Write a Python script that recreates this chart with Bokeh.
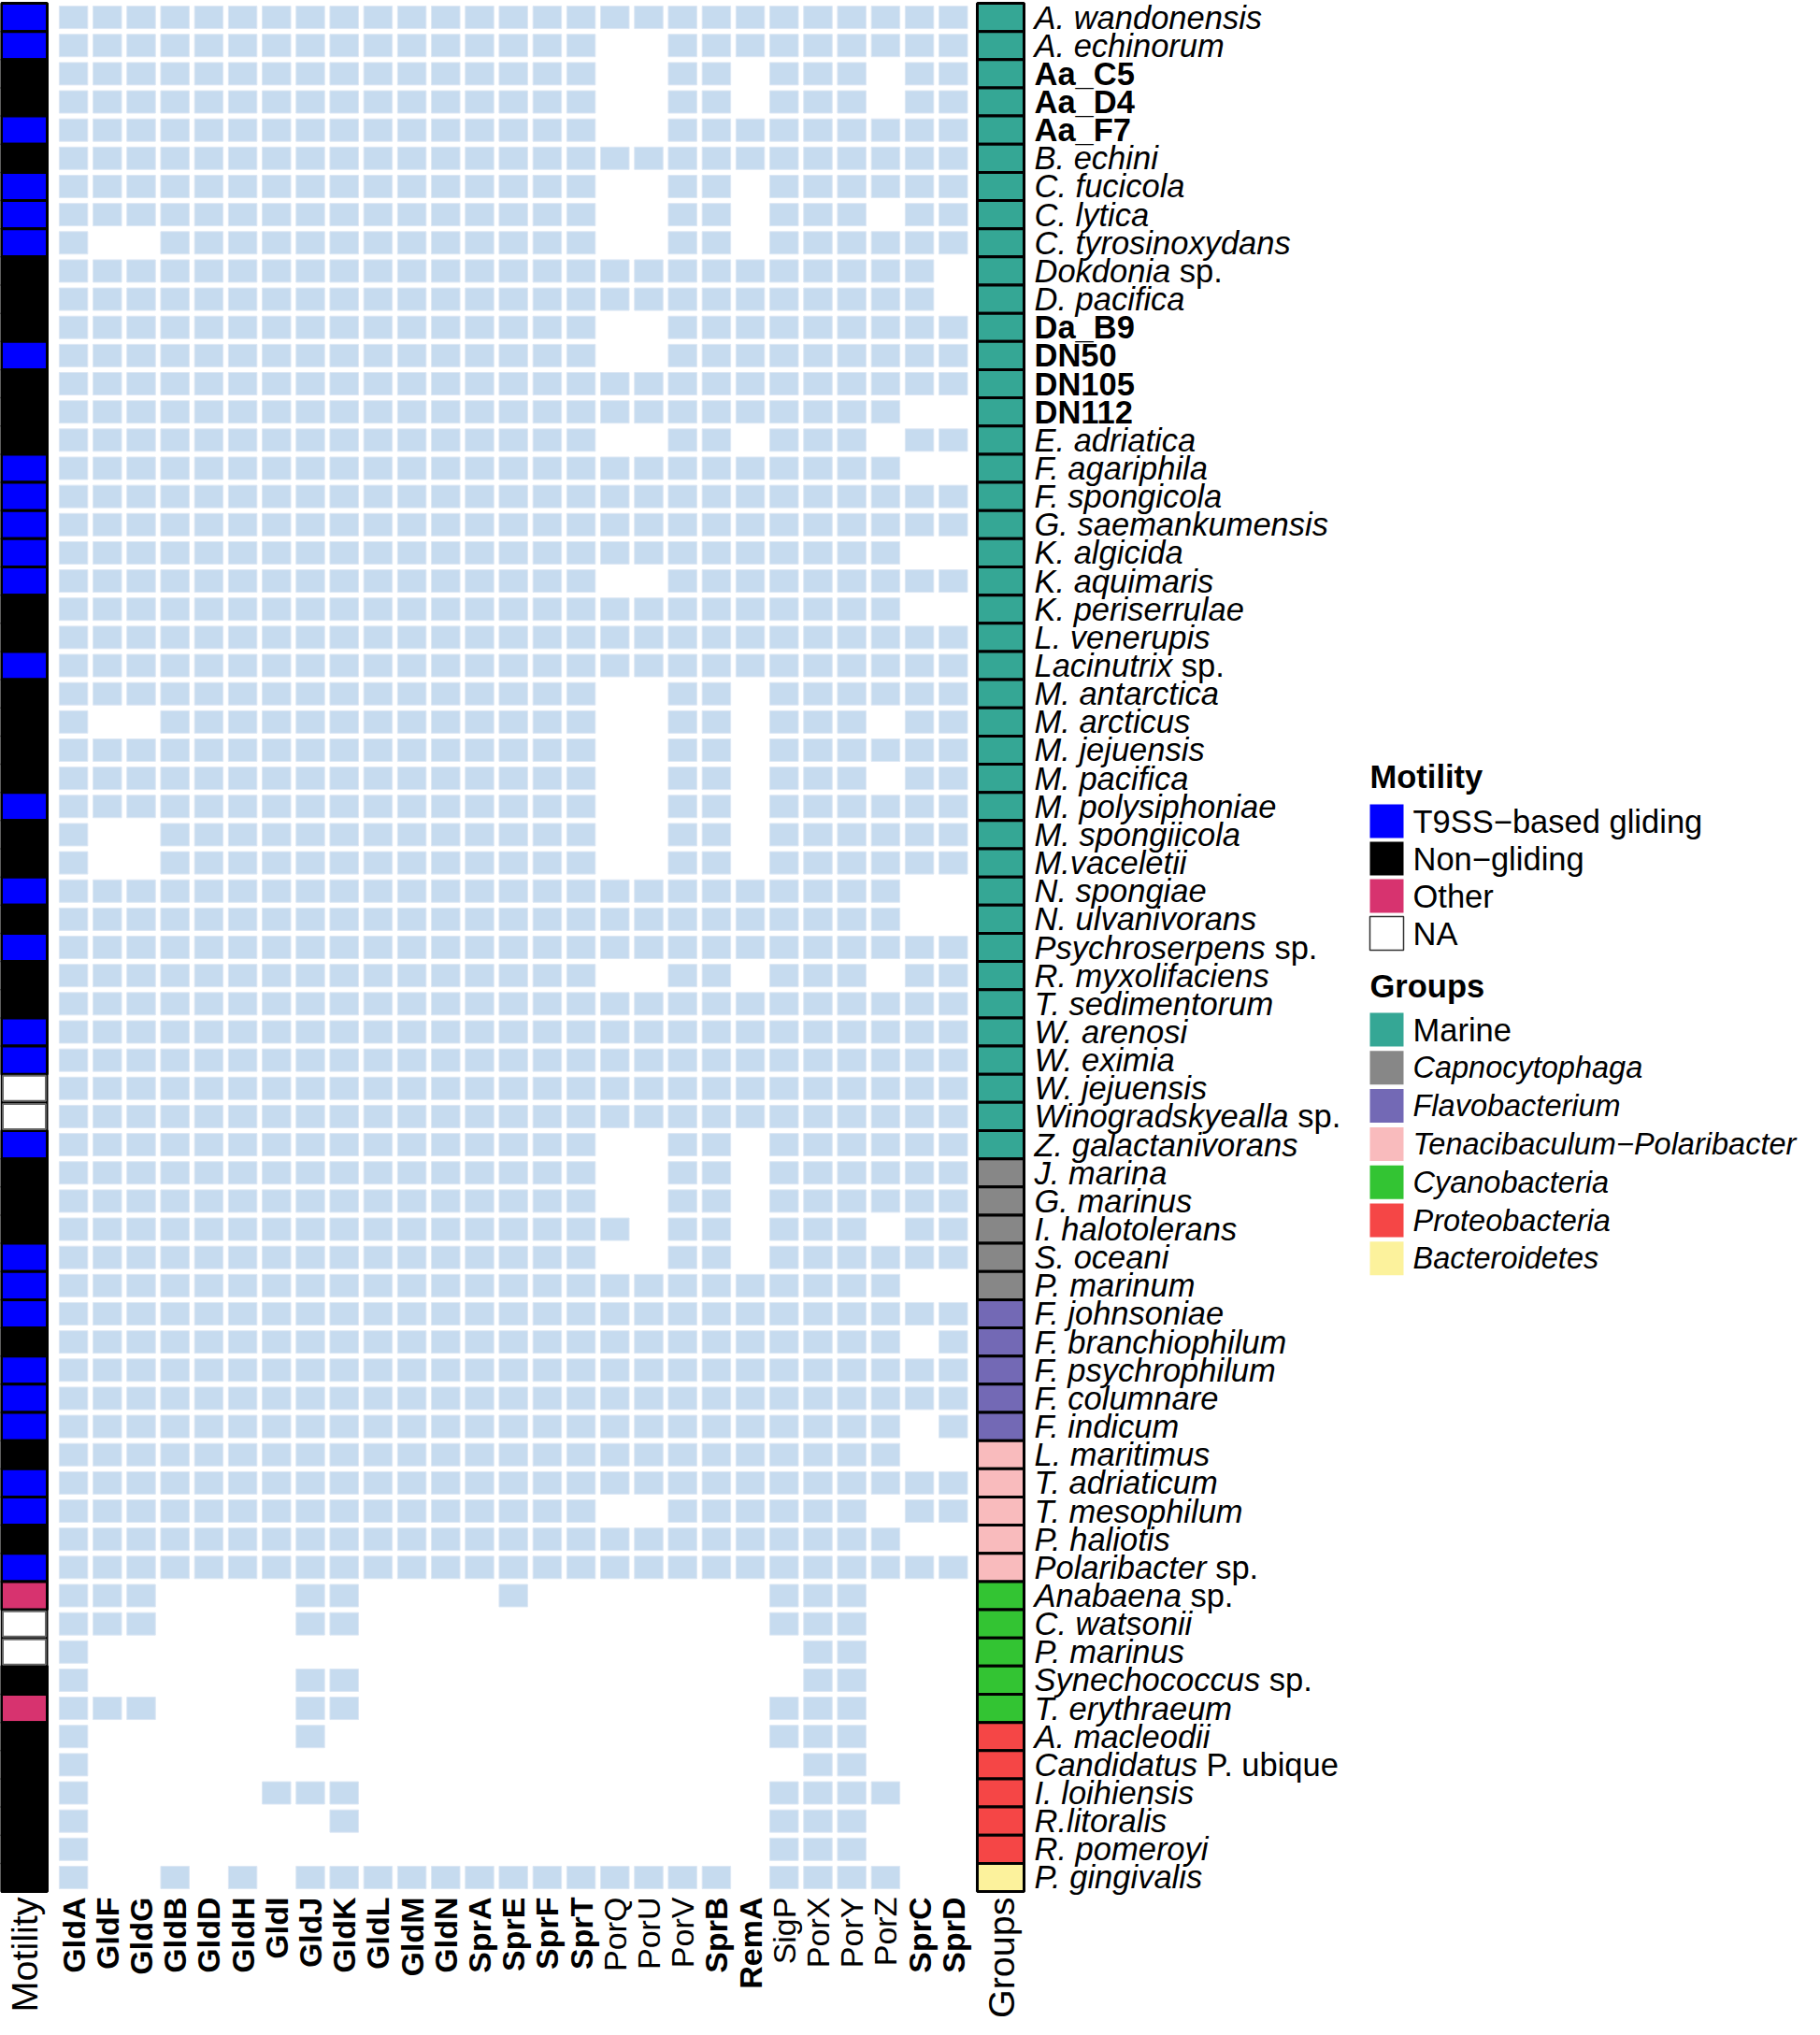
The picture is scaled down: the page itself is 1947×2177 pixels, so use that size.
import math
from bokeh.plotting import figure
from bokeh.models import Range1d
from bokeh.core.properties import value
from bokeh.embed import file_html
from bokeh.resources import INLINE

# ---------------- data ----------------
species = [
    "A. wandonensis", "A. echinorum", "Aa_C5", "Aa_D4", "Aa_F7", "B. echini",
    "C. fucicola", "C. lytica", "C. tyrosinoxydans", "Dokdonia sp.", "D. pacifica",
    "Da_B9", "DN50", "DN105", "DN112", "E. adriatica", "F. agariphila",
    "F. spongicola", "G. saemankumensis", "K. algicida", "K. aquimaris",
    "K. periserrulae", "L. venerupis", "Lacinutrix sp.", "M. antarctica",
    "M. arcticus", "M. jejuensis", "M. pacifica", "M. polysiphoniae",
    "M. spongiicola", "M.vaceletii", "N. spongiae", "N. ulvanivorans",
    "Psychroserpens sp.", "R. myxolifaciens", "T. sedimentorum", "W. arenosi",
    "W. eximia", "W. jejuensis", "Winogradskyealla sp.", "Z. galactanivorans",
    "J. marina", "G. marinus", "I. halotolerans", "S. oceani", "P. marinum",
    "F. johnsoniae", "F. branchiophilum", "F. psychrophilum", "F. columnare",
    "F. indicum", "L. maritimus", "T. adriaticum", "T. mesophilum", "P. haliotis",
    "Polaribacter sp.", "Anabaena sp.", "C. watsonii", "P. marinus",
    "Synechococcus sp.", "T. erythraeum", "A. macleodii", "Candidatus P. ubique",
    "I. loihiensis", "R.litoralis", "R. pomeroyi", "P. gingivalis",
]
bold_species = ["Aa_C5", "Aa_D4", "Aa_F7", "Da_B9", "DN50", "DN105", "DN112"]

genes = ["GldA", "GldF", "GldG", "GldB", "GldD", "GldH", "GldI", "GldJ", "GldK",
         "GldL", "GldM", "GldN", "SprA", "SprE", "SprF", "SprT", "PorQ", "PorU",
         "PorV", "SprB", "RemA", "SigP", "PorX", "PorY", "PorZ", "SprC", "SprD"]
regular_genes = ["PorQ", "PorU", "PorV", "SigP", "PorX", "PorY", "PorZ"]

# B = T9SS-based gliding, N = Non-gliding, O = Other, X = NA
motility = list("BBNNBNBBBNNNBNNNBBBBBNNBNNNNBNNBNBNNBBXXBNNNBBBNBBBNBBNBOXXNONNNNNN")

groups = (["Marine"] * 41 + ["Capnocytophaga"] * 5 + ["Flavobacterium"] * 5 +
          ["Tenacibaculum−Polaribacter"] * 5 + ["Cyanobacteria"] * 5 +
          ["Proteobacteria"] * 5 + ["Bacteroidetes"] * 1)

# presence (1) / absence (0) of each gene, columns in the order of `genes`
presence = [
    "1111111111111111 11111 111111",  # A. wandonensis
    "1111111111111111 00111 111111",  # A. echinorum
    "1111111111111111 00110 111011",  # Aa_C5
    "1111111111111111 00110 111011",  # Aa_D4
    "1111111111111111 00111 111111",  # Aa_F7
    "1111111111111111 11111 111111",  # B. echini
    "1111111111111111 00110 111111",  # C. fucicola
    "1111111111111111 00110 111011",  # C. lytica
    "1001111111111111 00110 111111",  # C. tyrosinoxydans
    "1111111111111111 11111 111110",  # Dokdonia sp.
    "1111111111111111 11111 111110",  # D. pacifica
    "1111111111111111 00111 111111",  # Da_B9
    "1111111111111111 00111 111111",  # DN50
    "1111111111111111 11111 111111",  # DN105
    "1111111111111111 11111 111100",  # DN112
    "1111111111111111 00110 111011",  # E. adriatica
    "1111111111111111 11111 111100",  # F. agariphila
    "1111111111111111 11111 111111",  # F. spongicola
    "1111111111111111 11111 111111",  # G. saemankumensis
    "1111111111111111 11111 111100",  # K. algicida
    "1111111111111111 00111 111111",  # K. aquimaris
    "1111111111111111 11111 111100",  # K. periserrulae
    "1111111111111111 11111 111111",  # L. venerupis
    "1111111111111111 11111 111111",  # Lacinutrix sp.
    "1111111111111111 00110 111111",  # M. antarctica
    "1001111111111111 00110 111011",  # M. arcticus
    "1111111111111111 00110 111111",  # M. jejuensis
    "1111111111111111 00110 111011",  # M. pacifica
    "1111111111111111 00110 111111",  # M. polysiphoniae
    "1001111111111111 00110 111111",  # M. spongiicola
    "1001111111111111 00110 111111",  # M.vaceletii
    "1111111111111111 11111 111100",  # N. spongiae
    "1111111111111111 11111 111100",  # N. ulvanivorans
    "1111111111111111 11111 111111",  # Psychroserpens sp.
    "1111111111111111 00110 111011",  # R. myxolifaciens
    "1111111111111111 11111 111111",  # T. sedimentorum
    "1111111111111111 11111 111111",  # W. arenosi
    "1111111111111111 11111 111111",  # W. eximia
    "1111111111111111 11111 111111",  # W. jejuensis
    "1111111111111111 11111 111111",  # Winogradskyealla sp.
    "1111111111111111 00110 111111",  # Z. galactanivorans
    "1111111111111111 00110 111111",  # J. marina
    "1111111111111111 00110 111111",  # G. marinus
    "1111111111111111 10110 111011",  # I. halotolerans
    "1111111111111111 00110 111111",  # S. oceani
    "1111111111111111 11111 111100",  # P. marinum
    "1111111111111111 11111 111111",  # F. johnsoniae
    "1111111111111111 11111 111101",  # F. branchiophilum
    "1111111111111111 11111 111111",  # F. psychrophilum
    "1111111111111111 11111 111111",  # F. columnare
    "1111111111111111 11111 111101",  # F. indicum
    "1111111111111111 11111 111100",  # L. maritimus
    "1111111111111111 11111 111111",  # T. adriaticum
    "1111111111111111 00111 111011",  # T. mesophilum
    "1111111111111111 11111 111100",  # P. haliotis
    "1111111111111111 11111 111111",  # Polaribacter sp.
    "1110000110000100 00000 111000",  # Anabaena sp.
    "1110000110000000 00000 111000",  # C. watsonii
    "1000000000000000 00000 011000",  # P. marinus
    "1000000110000000 00000 011000",  # Synechococcus sp.
    "1110000110000000 00000 111000",  # T. erythraeum
    "1000000100000000 00000 111000",  # A. macleodii
    "1000000000000000 00000 011000",  # Candidatus P. ubique
    "1000001110000000 00000 111100",  # I. loihiensis
    "1000000010000000 00000 111000",  # R.litoralis
    "1000000000000000 00000 111000",  # R. pomeroyi
    "1001010111111111 11110 111100",  # P. gingivalis
]

motility_names = {"B": "T9SS−based gliding", "N": "Non−gliding", "O": "Other", "X": "NA"}
motility_order = ["B", "N", "O", "X"]
motility_colors = {"B": "#0000FF", "N": "#000000", "O": "#D7336F", "X": "#FFFFFF"}

group_order = ["Marine", "Capnocytophaga", "Flavobacterium", "Tenacibaculum−Polaribacter",
               "Cyanobacteria", "Proteobacteria", "Bacteroidetes"]
group_colors = {"Marine": "#35A795", "Capnocytophaga": "#878787",
                "Flavobacterium": "#7369B5", "Tenacibaculum−Polaribacter": "#F9BBBD",
                "Cyanobacteria": "#33C433", "Proteobacteria": "#F54646",
                "Bacteroidetes": "#FCF29C"}
CELL_COLOR = "#C6DBEF"

# ---------------- layout ----------------
W, H = 1931, 2161
FONT = value("Liberation Sans")
FSN = 34.5
FS = "34.5px"
ROW0, ROWH = 3, 30.15
GENE_X0, GENE_P = 60, 36.2
MOT_X, GRP_X = 25.5, 1070
LABEL_X = 1106
n = len(species)

def row_y(i):
    return ROW0 + ROWH * (i + 0.5)

def col_x(j):
    return GENE_X0 + GENE_P * (j + 0.5)

# Arial / Liberation Sans advance widths (per 1000 em)
AW = {' ': 278, '.': 278, 'a': 556, 'b': 556, 'c': 500, 'd': 556, 'e': 556, 'f': 278,
      'g': 556, 'h': 556, 'i': 222, 'j': 222, 'k': 500, 'l': 222, 'm': 833, 'n': 556,
      'o': 556, 'p': 556, 'q': 556, 'r': 333, 's': 500, 't': 278, 'u': 556, 'v': 500,
      'w': 722, 'x': 500, 'y': 500, 'z': 500, 'A': 667, 'B': 667, 'C': 722, 'D': 722,
      'E': 667, 'F': 611, 'G': 778, 'H': 722, 'I': 278, 'J': 500, 'K': 667, 'L': 556,
      'M': 833, 'N': 722, 'O': 778, 'P': 667, 'Q': 778, 'R': 722, 'S': 667, 'T': 611,
      'U': 722, 'V': 667, 'W': 944, 'X': 667, 'Y': 667, 'Z': 611}

def text_width(s, size_px):
    return sum(AW.get(c, 556) for c in s) * size_px / 1000.0

p = figure(width=W, height=H, x_range=Range1d(0, W), y_range=Range1d(H, 0),
           output_backend="svg", toolbar_location=None, min_border=0,
           x_axis_location=None, y_axis_location=None)
p.grid.visible = False
p.outline_line_color = None

# gene presence cells
cx, cy = [], []
for i, row in enumerate(presence):
    bits = row.replace(" ", "")
    for j, b in enumerate(bits):
        if b == "1":
            cx.append(col_x(j))
            cy.append(row_y(i))
p.rect(x=cx, y=cy, width=30.5, height=24, fill_color=CELL_COLOR,
       line_color="#DCE7F4", line_width=1)

# motility column
p.quad(left=[0], right=[51], top=[ROW0], bottom=[ROW0 + ROWH * n],
       fill_color="black", line_color=None)
mcols = [motility_colors[m] for m in motility]
my = [row_y(i) for i in range(n)]
nonNA = [i for i in range(n) if motility[i] != "X"]
isNA = [i for i in range(n) if motility[i] == "X"]
p.rect(x=[MOT_X] * len(nonNA), y=[my[i] for i in nonNA], width=49, height=ROWH,
       fill_color=[mcols[i] for i in nonNA], line_color="black", line_width=3)
p.rect(x=[MOT_X] * len(isNA), y=[my[i] for i in isNA], width=46, height=27,
       fill_color="white", line_color="#666666", line_width=2)

# groups column
p.rect(x=[GRP_X] * n, y=my, width=50, height=ROWH,
       fill_color=[group_colors[g] for g in groups], line_color="black", line_width=3)

# species labels (italic names, upright "sp." / strain names in bold)
parts = {"italic": ([], [], []), "normal": ([], [], []), "bold": ([], [], [])}
for i, name in enumerate(species):
    y = row_y(i)
    if name in bold_species:
        segs = [(name, "bold")]
    elif name.endswith(" sp."):
        segs = [(name[:-4], "italic"), ("sp.", "normal")]
    elif name.startswith("Candidatus "):
        segs = [("Candidatus", "italic"), (name[len("Candidatus "):], "normal")]
    else:
        segs = [(name, "italic")]
    x = LABEL_X
    for s, st in segs:
        parts[st][0].append(x)
        parts[st][1].append(y)
        parts[st][2].append(s)
        x += text_width(s + " ", FSN)
for st, (xs, ys, ts) in parts.items():
    if ts:
        p.text(x=xs, y=ys, text=ts, text_font=FONT, text_font_size=FS,
               text_font_style=value(st), text_baseline="middle", text_align="left",
               text_color="black")

# bottom (column) labels
LAB_Y = ROW0 + ROWH * n + 6
for st in ["bold", "normal"]:
    sel = [j for j, g in enumerate(genes) if (g in regular_genes) == (st == "normal")]
    p.text(x=[col_x(j) for j in sel], y=[LAB_Y] * len(sel), text=[genes[j] for j in sel],
           angle=math.pi / 2, text_font=FONT, text_font_size="34px",
           text_font_style=value(st), text_align="right", text_baseline="middle",
           text_color="black")
p.text(x=[MOT_X, GRP_X], y=[LAB_Y, LAB_Y], text=["Motility", "Groups"],
       angle=math.pi / 2, text_font=FONT, text_font_size="39.5px",
       text_align="right", text_baseline="middle", text_color="black")

# legends
LEG_SQ_X, LEG_TX_X, LEG_TITLE_X = 1483, 1511, 1465
mot_title_y, mot_y0, mot_step = 830, 878, 40.0
grp_title_y, grp_y0, grp_step = 1054, 1101, 40.8

p.text(x=[LEG_TITLE_X, LEG_TITLE_X], y=[mot_title_y, grp_title_y],
       text=["Motility", "Groups"], text_font=FONT, text_font_size=FS,
       text_font_style=value("bold"), text_baseline="middle", text_align="left")

my_leg = [mot_y0 + k * mot_step for k in range(len(motility_order))]
p.rect(x=[LEG_SQ_X] * 4, y=my_leg, width=36, height=36,
       fill_color=[motility_colors[m] for m in motility_order],
       line_color=[None, None, None, "#333333"], line_width=1.5)
p.text(x=[LEG_TX_X] * 4, y=my_leg, text=[motility_names[m] for m in motility_order],
       text_font=FONT, text_font_size=FS, text_baseline="middle", text_align="left")

gy_leg = [grp_y0 + k * grp_step for k in range(len(group_order))]
p.rect(x=[LEG_SQ_X] * len(group_order), y=gy_leg, width=36, height=36,
       fill_color=[group_colors[g] for g in group_order], line_color=None)
p.text(x=[LEG_TX_X], y=[gy_leg[0]], text=[group_order[0]], text_font=FONT,
       text_font_size=FS, text_baseline="middle", text_align="left")
p.text(x=[LEG_TX_X] * (len(group_order) - 1), y=gy_leg[1:], text=group_order[1:],
       text_font=FONT, text_font_size="32.5px", text_font_style=value("italic"),
       text_baseline="middle", text_align="left")

open("out.html", "w").write(file_html(p, INLINE))
